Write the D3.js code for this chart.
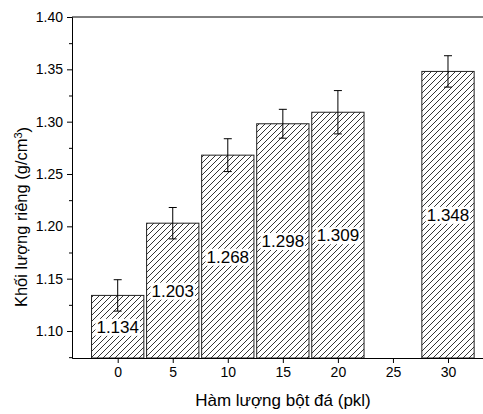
<!DOCTYPE html>
<html>
<head>
<meta charset="utf-8">
<script src="https://cdn.jsdelivr.net/npm/d3@7"></script>
<style>
    body { margin: 0; background: #fff; }
    svg { display: block; font-family: Arial, "Liberation Sans", sans-serif; }
    .axis path, .axis line { stroke: #000; }
    .axis text { font-size: 14px; fill: #000; }
</style>
</head>
<body>
<div id="chart"></div>
<script>
// data
var categories = [0, 5, 10, 15, 20, 30];
var values = [1.134, 1.203, 1.268, 1.298, 1.309, 1.348];
var errors = [0.015, 0.015, 0.0157, 0.0138, 0.0207, 0.015];
var xticks = [0, 5, 10, 15, 20, 25, 30];
var yticks = [1.10, 1.15, 1.20, 1.25, 1.30, 1.35, 1.40];

var W = 483, H = 414;
var margin = {top: 17, left: 72, bottom: 56};
var height = H - margin.top - margin.bottom;

var data = categories.map(function(c, i) {
    return {x: c, y: values[i], err: errors[i]};
});

var xScale = d3.scaleLinear().domain([-4.15, 34]).range([0, 38.15 * 11.01]);
var yScale = d3.scaleLinear().domain([1.0742, 1.40]).range([height, 0]);
var barW = 4.75 * 11.01;

var svg = d3.select('#chart').append('svg')
    .attr('width', W)
    .attr('height', H);

// hatch pattern
svg.append('defs').append('pattern')
    .attr('id', 'hatch')
    .attr('patternUnits', 'userSpaceOnUse')
    .attr('width', 6)
    .attr('height', 6)
    .append('path')
    .attr('d', 'M0,6 L6,0 M-1,1 L1,-1 M5,7 L7,5')
    .attr('stroke', '#000')
    .attr('stroke-width', 0.8);

var g = svg.append('g')
    .attr('transform', 'translate(' + margin.left + ',' + margin.top + ')');

// bars
g.selectAll('.bar')
    .data(data)
    .enter().append('rect')
    .attr('class', 'bar')
    .attr('x', function(d) { return xScale(d.x) - barW / 2; })
    .attr('y', function(d) { return yScale(d.y); })
    .attr('width', barW)
    .attr('height', function(d) { return height - yScale(d.y); })
    .attr('fill', 'url(#hatch)')
    .attr('stroke', '#222')
    .attr('stroke-width', 1);

// value labels in white boxes, at bar middle
var lab = g.selectAll('.lab')
    .data(data)
    .enter().append('g')
    .attr('class', 'lab')
    .attr('transform', function(d) {
        return 'translate(' + xScale(d.x) + ',' + ((yScale(d.y) + height) / 2) + ')';
    });

lab.append('rect').attr('fill', '#fff');
lab.append('text')
    .attr('text-anchor', 'middle')
    .attr('dy', '0.36em')
    .style('font-size', '17px')
    .text(function(d) { return d.y.toFixed(3); });
lab.each(function() {
    var b = d3.select(this).select('text').node().getBBox();
    d3.select(this).select('rect')
        .attr('x', b.x - 1).attr('y', b.y + 1)
        .attr('width', b.width + 2).attr('height', b.height - 2);
});

// error bars
var eb = g.selectAll('.err')
    .data(data)
    .enter().append('g')
    .attr('class', 'err')
    .attr('stroke', '#000')
    .attr('stroke-width', 1);
eb.append('line')
    .attr('x1', function(d) { return xScale(d.x); })
    .attr('x2', function(d) { return xScale(d.x); })
    .attr('y1', function(d) { return yScale(d.y + d.err); })
    .attr('y2', function(d) { return yScale(d.y - d.err); });
[1, -1].forEach(function(s) {
    eb.append('line')
        .attr('x1', function(d) { return xScale(d.x) - 4; })
        .attr('x2', function(d) { return xScale(d.x) + 4; })
        .attr('y1', function(d) { return yScale(d.y + s * d.err); })
        .attr('y2', function(d) { return yScale(d.y + s * d.err); });
});

// axes
g.append('g')
    .attr('class', 'axis axis--x')
    .attr('transform', 'translate(0,' + height + ')')
    .call(d3.axisBottom(xScale).tickValues(xticks).tickSize(5).tickPadding(4).tickSizeOuter(0));

var minor = d3.range(1.075, 1.40, 0.05);
g.append('g')
    .attr('class', 'axis axis--minor')
    .call(d3.axisLeft(yScale).tickValues(minor).tickSize(3).tickFormat('').tickSizeOuter(0));

g.append('g')
    .attr('class', 'axis axis--y')
    .call(d3.axisLeft(yScale).tickValues(yticks).tickSize(5).tickPadding(4)
        .tickFormat(d3.format('.2f')).tickSizeOuter(0));

// top frame line
g.append('line')
    .attr('x1', 0).attr('x2', W)
    .attr('y1', 0).attr('y2', 0)
    .attr('stroke', '#000');

// axis titles
svg.append('text')
    .attr('x', 283)
    .attr('y', 406)
    .attr('text-anchor', 'middle')
    .style('font-size', '17px')
    .text('Hàm lượng bột đá (pkl)');

var yl = svg.append('text')
    .attr('transform', 'translate(27,217) rotate(-90)')
    .attr('text-anchor', 'middle')
    .style('font-size', '16.5px');
yl.append('tspan').text('Khối lượng riêng (g/cm');
yl.append('tspan').attr('dy', '-0.45em').style('font-size', '11px').text('3');
yl.append('tspan').attr('dy', '0.45em').text(')');
</script>
</body>
</html>
